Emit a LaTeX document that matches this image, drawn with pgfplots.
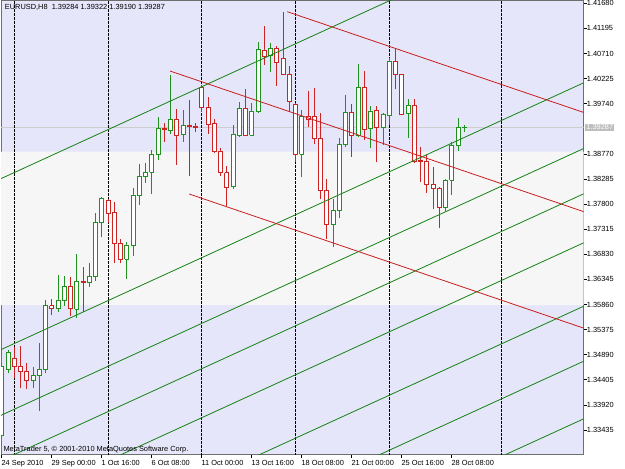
\documentclass[border=0pt]{standalone}
\usepackage{pgfplots}
\pgfplotsset{compat=1.18}
\usepackage{pgfplotstable}
\usepackage{fontspec}
\setmainfont{Liberation Sans}
\definecolor{lav}{RGB}{230,230,250}
\definecolor{band}{RGB}{246,246,246}
\definecolor{bull}{RGB}{30,145,30}
\definecolor{bear}{RGB}{205,35,35}
\definecolor{gline}{RGB}{20,130,20}
\definecolor{rline}{RGB}{200,30,30}
\definecolor{bidc}{RGB}{205,205,205}
\definecolor{bidlab}{RGB}{190,190,190}
\definecolor{frame}{RGB}{110,110,110}
\pgfplotstableread{
k o h l c u
0 1.33338 1.34691 1.33306 1.34659 1
1 1.34607 1.34981 1.34530 1.34929 1
2 1.34820 1.35045 1.34433 1.34659 0
3 1.34659 1.35058 1.34240 1.34575 0
4 1.34575 1.34736 1.34221 1.34401 0
5 1.34401 1.34659 1.34240 1.34491 1
6 1.34491 1.35110 1.33809 1.34607 1
7 1.34607 1.35947 1.34530 1.35837 1
8 1.35837 1.35966 1.35657 1.35786 0
9 1.35786 1.36430 1.35722 1.35947 1
10 1.35947 1.36411 1.35831 1.36217 1
11 1.36217 1.36398 1.35644 1.35786 0
12 1.35767 1.36829 1.35593 1.36301 1
13 1.36301 1.36591 1.35722 1.36282 0
14 1.36282 1.36668 1.36205 1.36398 1
15 1.36398 1.37622 1.36320 1.37441 1
16 1.37441 1.37944 1.37158 1.37911 1
17 1.37879 1.37899 1.37441 1.37622 0
18 1.37634 1.37847 1.36655 1.37042 0
19 1.37042 1.37119 1.36655 1.36733 0
20 1.36733 1.37061 1.36359 1.37010 1
21 1.37010 1.38105 1.36797 1.37976 1
22 1.37976 1.38575 1.37783 1.38330 1
23 1.38330 1.38588 1.38214 1.38414 1
24 1.38414 1.38845 1.37995 1.38768 1
25 1.38768 1.39477 1.38652 1.39264 1
26 1.39264 1.39373 1.38993 1.39251 0
27 1.39232 1.40295 1.39155 1.39438 1
28 1.39438 1.39631 1.38556 1.39135 0
29 1.39148 1.39618 1.39006 1.39316 1
30 1.39316 1.39812 1.38343 1.39296 0
31 1.39296 1.39361 1.39200 1.39290 0
32 1.40050 1.40101 1.39586 1.39663 0
33 1.39670 1.39876 1.39155 1.39348 0
34 1.39361 1.39438 1.38781 1.38826 0
35 1.38826 1.38878 1.38343 1.38407 0
36 1.38407 1.38543 1.37763 1.38124 0
37 1.38137 1.39328 1.38085 1.39155 1
38 1.39135 1.39779 1.39103 1.39650 1
39 1.39650 1.40018 1.39116 1.39135 0
40 1.39135 1.39747 1.39116 1.39599 1
41 1.39599 1.40939 1.39554 1.40790 1
42 1.40778 1.41241 1.40488 1.40649 0
43 1.40681 1.40919 1.40359 1.40810 1
44 1.40810 1.40855 1.40088 1.40533 0
45 1.40617 1.41518 1.40295 1.40307 0
46 1.40307 1.40468 1.39586 1.39779 0
47 1.39728 1.39760 1.38620 1.38768 0
48 1.38768 1.39618 1.38317 1.39502 1
49 1.39502 1.39992 1.39296 1.39438 0
50 1.39489 1.40037 1.38961 1.39071 0
51 1.39071 1.39567 1.37892 1.38072 0
52 1.38072 1.38279 1.37119 1.37415 0
53 1.37415 1.37892 1.36978 1.37673 1
54 1.37673 1.39071 1.37525 1.38961 1
55 1.38961 1.39908 1.38910 1.39573 1
56 1.39573 1.39734 1.38717 1.39135 0
57 1.39135 1.40507 1.39103 1.40050 1
58 1.40050 1.40378 1.39039 1.39245 0
59 1.39264 1.39696 1.38878 1.39599 1
60 1.39618 1.39696 1.38607 1.39277 0
61 1.39277 1.39554 1.38942 1.39535 1
62 1.39515 1.40617 1.39328 1.40565 1
63 1.40565 1.40810 1.40018 1.40307 0
64 1.40307 1.40314 1.39522 1.39535 0
65 1.39554 1.39831 1.39084 1.39708 1
66 1.39708 1.39824 1.38588 1.38633 0
67 1.38639 1.38910 1.38233 1.38626 0
68 1.38633 1.38749 1.38021 1.38188 0
69 1.38188 1.38523 1.37699 1.38105 0
70 1.38105 1.38124 1.37332 1.37737 0
71 1.37737 1.38279 1.37673 1.38266 1
72 1.38266 1.39006 1.37976 1.38929 1
73 1.38929 1.39470 1.38832 1.39284 1
74 1.39284 1.39322 1.39190 1.39287 1
}\candles
\begin{document}
\begin{tikzpicture}
\path[use as bounding box, fill=white] (-1pt,-14pt) rectangle (624pt,455pt);
\begin{axis}[
  scale only axis, width=582.7pt, height=454pt,
  xmin=-0.112, xmax=93.12, ymin=1.32952, ymax=1.417245,
  axis background/.style={fill=lav},
  axis line style={draw=frame, line width=1pt},
  tick align=outside, major tick length=3pt,
  tick style={black, line width=0.6pt},
  xtick pos=left, ytick pos=right, yticklabel pos=right,
  xtick={0,8,16,24,32,40,48,56,64,72},
  xticklabels={24 Sep 2010,29 Sep 00:00,1 Oct 16:00,6 Oct 08:00,11 Oct 00:00,13 Oct 16:00,18 Oct 08:00,21 Oct 00:00,25 Oct 16:00,28 Oct 08:00},
  ytick={1.33435,1.33920,1.34405,1.34890,1.35375,1.35860,1.36345,1.36830,1.37315,1.37800,1.38285,1.38770,1.39740,1.40225,1.40710,1.41195,1.41680},
  yticklabels={1.33435,1.33920,1.34405,1.34890,1.35375,1.35860,1.36345,1.36830,1.37315,1.37800,1.38285,1.38770,1.39740,1.40225,1.40710,1.41195,1.41680},
  xticklabel style={anchor=north west, inner sep=0pt, yshift=-2.5pt, xshift=-0.3pt},
  yticklabel style={anchor=west, inner sep=0pt},
  tick label style={font=\fontsize{7.4}{8}\selectfont},
  no markers,
]
% background band
\addplot[fill=band, draw=none, forget plot] coordinates {(-1,1.35850) (95,1.35850) (95,1.38812) (-1,1.38812) (-1,1.35850)};
% bid line
\addplot[bidc, line width=1pt, forget plot] coordinates {(-1,1.39287) (95,1.39287)};
% period separators
\foreach \s in {2,17,32,47,62,80}{
  \edef\doplot{\noexpand\addplot[black, line width=0.7pt, dash pattern=on 2.4pt off 1.6pt, forget plot] coordinates {(\s,1.30) (\s,1.45)};}
  \doplot
}
% candles
\pgfplotstablegetrowsof{\candles}
\pgfmathtruncatemacro{\nlast}{\pgfplotsretval-1}
\pgfplotsforeachungrouped \i in {0,...,\nlast}{%
  \pgfplotstablegetelem{\i}{k}\of\candles \let\ck\pgfplotsretval
  \pgfplotstablegetelem{\i}{o}\of\candles \let\co\pgfplotsretval
  \pgfplotstablegetelem{\i}{h}\of\candles \let\ch\pgfplotsretval
  \pgfplotstablegetelem{\i}{l}\of\candles \let\cl\pgfplotsretval
  \pgfplotstablegetelem{\i}{c}\of\candles \let\cc\pgfplotsretval
  \pgfplotstablegetelem{\i}{u}\of\candles \let\cu\pgfplotsretval
  \pgfmathsetmacro{\xa}{\ck-0.32}%
  \pgfmathsetmacro{\xb}{\ck+0.32}%
  \ifnum\cu=1 \def\ccol{bull}\else\def\ccol{bear}\fi
  \edef\doplot{%
    \noexpand\addplot[\ccol, line width=0.8pt, forget plot] coordinates {(\ck,\cl) (\ck,\ch)};
    \noexpand\addplot[draw=\ccol, fill=white, line width=0.8pt, forget plot] coordinates {(\xa,\co) (\xb,\co) (\xb,\cc) (\xa,\cc) (\xa,\co)};
  }%
  \doplot
}
% green channel lines
\addplot[gline, line width=0.8pt] coordinates {(-1,1.382432) (94,1.434967)};
\addplot[gline, line width=0.8pt] coordinates {(-1,1.349390) (94,1.401925)};
\addplot[gline, line width=0.8pt] coordinates {(-1,1.336695) (94,1.389230)};
\addplot[gline, line width=0.8pt] coordinates {(-1,1.327941) (94,1.380476)};
\addplot[gline, line width=0.8pt] coordinates {(-1,1.318473) (94,1.371008)};
\addplot[gline, line width=0.8pt] coordinates {(-1,1.306222) (94,1.358757)};
\addplot[gline, line width=0.8pt] coordinates {(-1,1.295594) (94,1.348129)};
\addplot[gline, line width=0.8pt] coordinates {(-1,1.284464) (94,1.336999)};
% red channel lines
\addplot[rline, line width=0.8pt] coordinates {(45.7,1.415177) (94,1.395345)};
\addplot[rline, line width=0.8pt] coordinates {(26.93,1.403718) (94,1.376178)};
\addplot[rline, line width=0.8pt] coordinates {(30.0,1.379951) (94,1.353672)};
\coordinate (bid) at (axis cs:93.12,1.39287);
\end{axis}
\node[anchor=base west, inner sep=0pt, font=\fontsize{7.4}{8}\selectfont] at (3.7pt,445.7pt) {EURUSD,H8\ \ 1.39284 1.39322 1.39190 1.39287};
\node[anchor=base west, inner sep=0pt, font=\fontsize{7.4}{8}\selectfont] at (2.3pt,3.5pt) {MetaTrader 5, © 2001-2010 MetaQuotes Software Corp.};
\node[anchor=west, fill=bidlab, text=white, inner xsep=1pt, inner ysep=1pt, xshift=1.5pt, font=\fontsize{7.4}{8}\selectfont] at (bid) {1.39287};
\end{tikzpicture}
\end{document}
